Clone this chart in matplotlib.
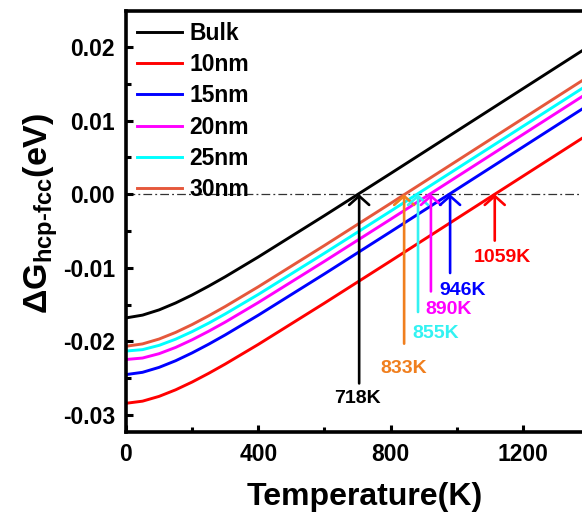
import matplotlib
matplotlib.use('Agg')
import matplotlib.pyplot as plt
from matplotlib.ticker import MultipleLocator, FormatStrFormatter

plt.rcParams['font.family'] = ['Liberation Sans', 'DejaVu Sans']
plt.rcParams['font.weight'] = 'bold'
plt.rcParams['mathtext.fontset'] = 'custom'
plt.rcParams['mathtext.rm'] = 'Liberation Sans:bold'
plt.rcParams['mathtext.bf'] = 'Liberation Sans:bold'
plt.rcParams['mathtext.it'] = 'Liberation Sans:bold'

# temperature grid (K) and dG values (meV)
temps = [0, 50, 100, 150, 200, 250, 300, 400, 600, 800, 1000, 1200, 1400]
g_bulk = [-16.80, -16.42, -15.71, -14.77, -13.68, -12.48, -11.21, -8.52, -2.90, 2.82, 8.58, 14.34, 20.10]
g_10nm = [-28.40, -28.11, -27.46, -26.57, -25.51, -24.33, -23.07, -20.40, -14.79, -9.07, -3.31, 2.45, 8.21]
g_15nm = [-24.50, -24.19, -23.52, -22.62, -21.55, -20.37, -19.11, -16.43, -10.82, -5.10, 0.66, 6.42, 12.18]
g_20nm = [-22.45, -22.25, -21.66, -20.81, -19.77, -18.61, -17.37, -14.71, -9.11, -3.40, 2.36, 8.12, 13.88]
g_25nm = [-21.30, -21.11, -20.53, -19.69, -18.66, -17.51, -16.26, -13.61, -8.01, -2.30, 3.46, 9.22, 14.98]
g_30nm = [-20.65, -20.33, -19.67, -18.77, -17.70, -16.51, -15.25, -12.57, -6.96, -1.24, 4.52, 10.28, 16.04]

labels = ['Bulk', '10nm', '15nm', '20nm', '25nm', '30nm']
series = [g_bulk, g_10nm, g_15nm, g_20nm, g_25nm, g_30nm]
colors = ['black', '#FF0000', '#0000FF', '#FF00FF', '#00FFFF', '#E5583C']

# transition arrows: crossing temperature on the plot, tail (meV), label and label position
arrow_x = [705, 841, 883, 922, 980, 1115]
arrow_tail = [-25.7, -20.3, -16.0, -13.2, -10.7, -6.3]
arrow_text = ['718K', '833K', '855K', '890K', '946K', '1059K']
text_x = [701, 839, 937, 976, 1018, 1137]
text_y = [-27.8, -23.7, -18.9, -15.7, -13.1, -8.6]
arrow_colors = ['black', '#F07F1E', '#33F2F2', '#FF00FF', '#0000FF', '#FF0000']

fig = plt.figure(figsize=(5.82, 5.15), dpi=100)
ax = fig.add_axes([126 / 582, 83 / 515, 463 / 582, 421 / 515])

for g, lab, c in zip(series, labels, colors):
    ax.plot(temps, [v / 1000 for v in g], color=c, lw=2.1, label=lab)

ax.axhline(0, color='#333333', lw=0.9, ls=(0, (7, 2.5, 1.5, 2.5)), zorder=1)

for x, t, s, tx, ty, c in zip(arrow_x, arrow_tail, arrow_text, text_x, text_y, arrow_colors):
    ax.annotate('', xy=(x, 0), xytext=(x, t / 1000),
                arrowprops=dict(arrowstyle='->,head_length=0.4,head_width=0.45', color=c, lw=1.9,
                                shrinkA=0, shrinkB=0, mutation_scale=16))
    ax.text(tx, ty / 1000, s, color=c, fontsize=14, fontweight='bold', ha='center', va='center')

ax.set_xlim(0, 1400)
ax.set_ylim(-0.0323, 0.0249)
ax.xaxis.set_major_locator(MultipleLocator(400))
ax.xaxis.set_minor_locator(MultipleLocator(200))
ax.yaxis.set_major_locator(MultipleLocator(0.01))
ax.yaxis.set_minor_locator(MultipleLocator(0.005))
ax.yaxis.set_major_formatter(FormatStrFormatter('%.2f'))

ax.tick_params(which='both', direction='in', width=2.2, labelsize=16.5, pad=8, top=False, right=False)
ax.tick_params(which='major', length=5)
ax.tick_params(which='minor', length=3.5)
for side in ['left', 'bottom', 'top', 'right']:
    ax.spines[side].set_linewidth(2.6)

ax.set_xlabel('Temperature(K)', fontsize=23, fontweight='bold')
ax.xaxis.set_label_coords(0.516, -0.118)
ax.set_ylabel(r'ΔG$_{\text{hcp-fcc}}$(eV)', fontsize=24.5, fontweight='bold')
ax.yaxis.set_label_coords(-0.142, 0.52)

ax.legend(loc='upper left', bbox_to_anchor=(0.023, 0.974), frameon=False, fontsize=16.5,
          handlelength=2.0, handletextpad=0.3, labelspacing=0.36, borderpad=0, borderaxespad=0)

plt.savefig('out.png', dpi=100)
